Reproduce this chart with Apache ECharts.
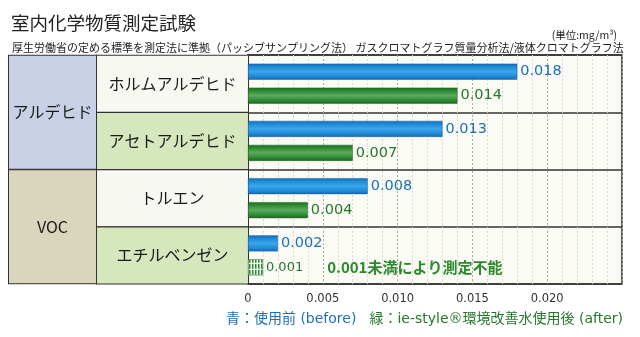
<!DOCTYPE html>
<html>
<head>
<meta charset="utf-8">
<script src="https://cdn.jsdelivr.net/npm/echarts@6/dist/echarts.min.js"></script>
<style>html,body{margin:0;padding:0;background:#fff;}#c{width:640px;height:337px;}</style>
</head>
<body>
<div id="c"></div>
<script>
var categories = ['ホルムアルデヒド', 'アセトアルデヒド', 'トルエン', 'エチルベンゼン'];
var groups = ['アルデヒド', 'VOC'];
var beforeValues = [0.018, 0.013, 0.008, 0.002];
var afterValues = [0.014, 0.007, 0.004, 0.001];
var afterNotes = ['', '', '', '0.001未満により測定不能'];
var seriesNames = ['青：使用前 (before)', '緑：ie-style®環境改善水使用後 (after)'];
var xTicks = ['0', '0.005', '0.010', '0.015', '0.020'];

var JP = '"Noto Sans CJK JP", "Noto Sans", sans-serif';
var NUM = '"DejaVu Sans", Verdana, sans-serif';
var MIX = '"DejaVu Sans", "Noto Sans CJK JP", sans-serif';
var BLUE_TXT = '#1c6fb8';
var GREEN_TXT = '#23782a';

var chart = echarts.init(document.getElementById('c'), null, {renderer: 'canvas'});

// striped pattern for the "below detection" bar
var pat = document.createElement('canvas');
pat.width = 3; pat.height = 6;
var pctx = pat.getContext('2d');
pctx.fillStyle = '#f4f8ee'; pctx.fillRect(0, 0, 3, 6);
pctx.fillStyle = '#2c8a34'; pctx.fillRect(0, 0, 1.5, 4);
pctx.fillStyle = '#5aa860'; pctx.fillRect(0, 4, 1.5, 1);

var blueGrad = new echarts.graphic.LinearGradient(0, 0, 0, 1, [
  {offset: 0, color: '#1668b3'}, {offset: 0.2, color: '#1f8ad6'},
  {offset: 0.5, color: '#3aa6ea'}, {offset: 0.8, color: '#1f8ad6'}, {offset: 1, color: '#1668b3'}]);
var greenGrad = new echarts.graphic.LinearGradient(0, 0, 0, 1, [
  {offset: 0, color: '#1d6a22'}, {offset: 0.2, color: '#2d8a32'},
  {offset: 0.5, color: '#5dab5e'}, {offset: 0.8, color: '#2d8a32'}, {offset: 1, color: '#1d6a22'}]);

var nameBg = ['#f8f8f3', '#d6e6bd', '#f8f8f3', '#d6e6bd'];
var groupBg = ['#c8d0e6', '#dad5bd'];
var nameRich = {};
nameBg.forEach(function (c, i) {
  nameRich['r' + i] = {
    width: 151, height: 56, backgroundColor: c, align: 'center',
    fontSize: 16, fontFamily: JP, color: '#1a1a1a',
    borderColor: '#333', borderWidth: 1
  };
});
var groupRich = {};
groupBg.forEach(function (c, i) {
  groupRich['g' + i] = {
    width: 87, height: 113, backgroundColor: c, align: 'center',
    fontSize: 16, fontFamily: JP, color: '#1a1a1a',
    borderColor: '#333', borderWidth: 1
  };
});

var afterData = afterValues.map(function (v, i) {
  if (afterNotes[i]) {
    return {
      value: v,
      itemStyle: {color: {image: pat, repeat: 'repeat'}},
      label: {
        formatter: function (p) { return '{v|' + p.value.toFixed(3) + '}{n|' + afterNotes[p.dataIndex] + '}'; },
        rich: {
          v: {fontSize: 13, fontFamily: NUM, color: GREEN_TXT},
          n: {fontSize: 15, fontFamily: JP, fontWeight: 'bold', color: '#2a8a2a', padding: [0, 0, 0, 24]}
        }
      }
    };
  }
  return v;
});

chart.setOption({
  animation: false,
  title: [
    {text: '室内化学物質測定試験', left: 6, top: 9,
     textStyle: {fontFamily: JP, fontSize: 18.5, fontWeight: 'normal', color: '#222'}},
    {text: '厚生労働省の定める標準を測定法に準拠（パッシブサンプリング法） ガスクロマトグラフ質量分析法/液体クロマトグラフ法',
     left: 7, top: 37, textStyle: {fontFamily: JP, fontSize: 11, fontWeight: 'normal', color: '#222'}},
    {text: '(単位:mg/m³)', right: 18, top: 25,
     textStyle: {fontFamily: JP, fontSize: 10.5, fontWeight: 'normal', color: '#222'}}
  ],
  legend: {
    right: 12, top: 307, icon: 'none', itemWidth: 0, itemGap: 8,
    textStyle: {fontFamily: MIX, fontSize: 14},
    data: [
      {name: seriesNames[0], textStyle: {color: BLUE_TXT}},
      {name: seriesNames[1], textStyle: {color: GREEN_TXT}}
    ],
    selectedMode: false
  },
  grid: {left: 248, right: 18, top: 55, bottom: 53, show: true,
         backgroundColor: '#fbfbf6', borderColor: '#333', borderWidth: 1.5},
  xAxis: [
    {type: 'value', min: 0, max: 0.025, interval: 0.001,
     axisLine: {show: false}, axisTick: {show: false}, axisLabel: {show: false},
     splitLine: {show: true, lineStyle: {color: '#d9d9d2', type: [2, 2], width: 1}}},
    {type: 'value', min: 0, max: 0.025, interval: 0.005, position: 'bottom',
     axisLine: {show: false}, axisTick: {show: false},
     axisLabel: {margin: 9, fontFamily: NUM, fontSize: 11.5, color: '#333',
       formatter: function (v, i) { return xTicks[i] !== undefined ? xTicks[i] : ''; }},
     splitLine: {show: true, lineStyle: {color: '#a9a9a2', type: [2, 2], width: 1}}}
  ],
  yAxis: [
    {type: 'category', data: categories, inverse: true,
     axisLine: {show: false}, axisTick: {show: false},
     splitLine: {show: true, interval: 0, lineStyle: {color: '#333', width: 1.5}},
     axisLabel: {interval: 0, margin: 0, align: 'right',
       formatter: function (v, i) { return '{r' + i + '|' + v + '}'; }, rich: nameRich}},
    {type: 'category', data: groups, inverse: true, position: 'left', offset: 152,
     axisLine: {show: false}, axisTick: {show: false}, splitLine: {show: false},
     axisLabel: {interval: 0, margin: 0, align: 'right',
       formatter: function (v, i) { return '{g' + i + '|' + v + '}'; }, rich: groupRich}}
  ],
  series: [
    {name: seriesNames[0], type: 'bar', xAxisIndex: 1, yAxisIndex: 0,
     data: beforeValues, barWidth: 16, barGap: '50%',
     itemStyle: {color: blueGrad, borderColor: '#1460a8', borderWidth: 0.5},
     label: {show: true, position: 'right', distance: 3, fontFamily: NUM, fontSize: 14.5, color: BLUE_TXT,
       formatter: function (p) { return p.value.toFixed(3); }}},
    {name: seriesNames[1], type: 'bar', xAxisIndex: 1, yAxisIndex: 0,
     data: afterData, barWidth: 16, barGap: '50%',
     itemStyle: {color: greenGrad, borderColor: '#1b6320', borderWidth: 0.5},
     label: {show: true, position: 'right', distance: 3, fontFamily: NUM, fontSize: 14.5, color: GREEN_TXT,
       formatter: function (p) { return p.value.toFixed(3); }}}
  ]
});
</script>
</body>
</html>
